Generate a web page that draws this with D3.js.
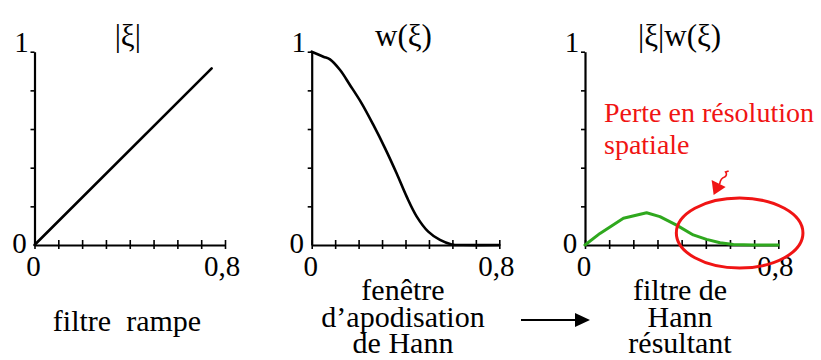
<!DOCTYPE html>
<html>
<head>
<meta charset="utf-8">
<script src="https://cdn.jsdelivr.net/npm/d3@7"></script>
<style>
  svg text { font-family: 'Liberation Serif' !important; }
</style>
</head>
<body style="margin:0">
<div id="chart"></div>
<script>
// values
var rampX = [0, 0.744];
var rampY = [0, 0.914];

var hannX = [0, 0.05, 0.078, 0.121, 0.163, 0.213, 0.263, 0.313, 0.362, 0.405, 0.448, 0.497, 0.547, 0.597, 0.647, 0.8];
var hannY = [1, 0.974, 0.96, 0.905, 0.828, 0.733, 0.621, 0.5, 0.371, 0.25, 0.147, 0.069, 0.026, 0.003, 0, 0];

var resultX = [0, 0.062, 0.159, 0.255, 0.31, 0.379, 0.448, 0.503, 0.559, 0.614, 0.697, 0.8];
var resultY = [0, 0.06, 0.138, 0.167, 0.147, 0.103, 0.052, 0.029, 0.012, 0.003, 0, 0];

var xTicks = [0, 0.1, 0.2, 0.3, 0.4, 0.5, 0.6, 0.7, 0.8];
var yTicks = [0.2, 0.4, 0.6, 0.8, 1];
var xLabels = ["0", "0,8"];
var yLabels = ["0", "1"];

var titles = ["|ξ|", "w(ξ)", "|ξ|w(ξ)"];
var captions = [["filtre\u00a0\u00a0rampe"],
                ["fenêtre", "d\u2019apodisation", "de Hann"],
                ["filtre de", "Hann", "résultant"]];
var noteLines = ["Perte en résolution", "spatiale"];

// layout
var width = 821, height = 360;
var plotTop = 51.7, plotBottom = 245;
var panels = [
  {x0: 34.5, x1: 225, xs: rampX, ys: rampY, color: "#000", width: 2.6, curve: d3.curveLinear},
  {x0: 311.7, x1: 499.3, xs: hannX, ys: hannY, color: "#000", width: 2.6, curve: d3.curveCatmullRom},
  {x0: 585, x1: 778.3, xs: resultX, ys: resultY, color: "#2fa81e", width: 3, curve: d3.curveLinear}
];

var svg = d3.select("#chart")
            .append("svg")
            .attr("width", width)
            .attr("height", height)
            .style("font-family", "'Liberation Serif'");

var red = "#f01414";
var lastX, lastY;

function label(parent, x, y, size, txt, anchor) {
  return parent.append("text")
               .attr("x", x).attr("y", y)
               .attr("text-anchor", anchor || "middle")
               .style("font-family", "'Liberation Serif'")
               .style("font-size", size + "px")
               .text(txt);
}

panels.forEach(function(p, i) {
  var x = d3.scaleLinear().domain([0, 0.8]).range([p.x0, p.x1]);
  var y = d3.scaleLinear().domain([0, 1]).range([plotBottom, plotTop]);
  var g = svg.append("g");

  // x axis
  var xa = g.append("g")
            .attr("transform", `translate(0,${plotBottom})`)
            .call(d3.axisBottom(x).tickValues(xTicks).tickSizeInner(4).tickSizeOuter(0).tickFormat(""));
  xa.select(".domain").attr("stroke-width", 2.2);
  xa.selectAll(".tick line").attr("y1", -5).attr("stroke-width", 1.6);

  // y axis
  var ya = g.append("g")
            .attr("transform", `translate(${p.x0},0)`)
            .call(d3.axisLeft(y).tickValues(yTicks).tickSizeInner(4).tickSizeOuter(0).tickFormat(""));
  ya.select(".domain").attr("stroke-width", 2.2);
  ya.selectAll(".tick line").attr("stroke-width", 1.6);

  // tick labels
  label(g, x(0) - 1, plotBottom + 31, 29, xLabels[0]);
  label(g, x(0.8) - 3, plotBottom + 31, 29, xLabels[1]);
  label(g, x(0) - 15, y(0) + 8, 29, yLabels[0]);
  label(g, x(0) - 13, y(1) + 0.5, 29, yLabels[1]);

  // title
  label(g, (p.x0 + p.x1) / 2 - 2, 46, 31, titles[i]);

  // curve
  var pts = p.xs.map((v, k) => [v, p.ys[k]]);
  g.append("path")
   .datum(pts)
   .attr("fill", "none")
   .attr("stroke", p.color)
   .attr("stroke-width", p.width)
   .attr("stroke-linejoin", "round")
   .attr("stroke-linecap", "round")
   .attr("d", d3.line().x(d => x(d[0])).y(d => y(d[1])).curve(p.curve));

  // caption under each panel
  var cx = [127, 403, 680][i];
  var base = captions[i].length == 1 ? [331] : [300, 327, 353];
  captions[i].forEach(function(line, k) {
    label(g, cx, base[k], 30, line);
  });

  lastX = x; lastY = y;
});

// annotation on the last panel
var ex = lastX(0.64), ey = lastY(0.062);
svg.append("ellipse")
   .attr("cx", ex).attr("cy", ey)
   .attr("rx", lastX(0.262) - lastX(0))
   .attr("ry", lastY(0) - lastY(0.181))
   .attr("fill", "none")
   .attr("stroke", red)
   .attr("stroke-width", 3);

var ax = ex - 26, ay = ey - 38;
svg.append("path")
   .attr("d", `M${ax - 2},${ay - 15} L${ax + 12},${ay - 8} L${ax},${ay} Z`)
   .attr("fill", red);
svg.append("path")
   .attr("d", `M${ax + 6},${ay - 11} Q${ax + 7},${ay - 17} ${ax + 11},${ay - 18} Q${ax + 14},${ay - 20} ${ax + 12},${ay - 23} L${ax + 15},${ay - 24}`)
   .attr("fill", "none").attr("stroke", red).attr("stroke-width", 1.6);

noteLines.forEach(function(line, k) {
  label(svg, 604, 122 + k * 31.5, 28, line, "start").style("fill", red);
});

// arrow between the last two captions
svg.append("line")
   .attr("x1", 521).attr("x2", 577).attr("y1", 320).attr("y2", 320)
   .attr("stroke", "#000").attr("stroke-width", 2);
svg.append("path")
   .attr("d", "M575,313 L590,320 L575,327 Z")
   .attr("fill", "#000");
</script>
</body>
</html>
